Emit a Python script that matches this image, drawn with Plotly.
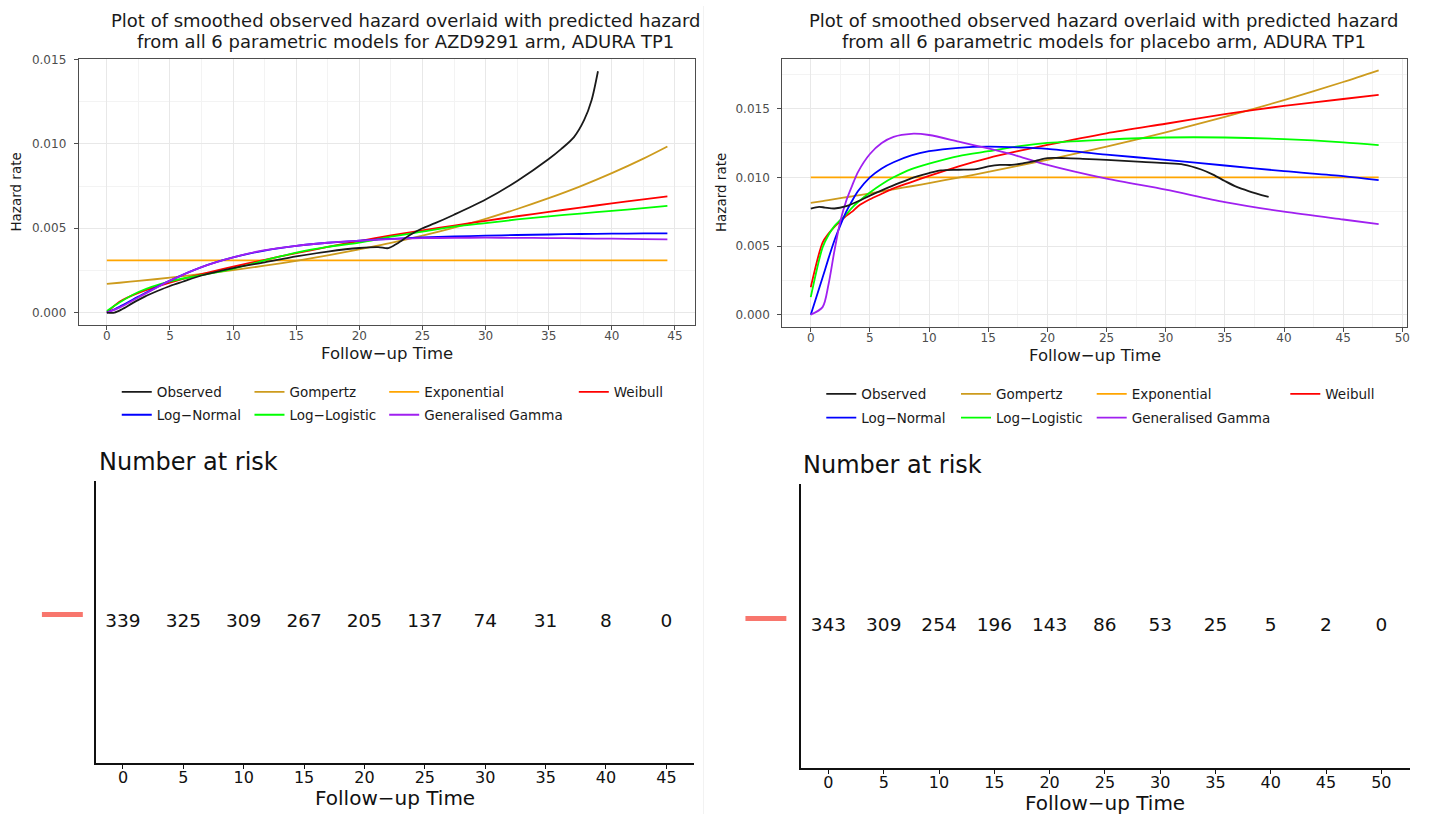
import plotly.graph_objects as go

FONT = "DejaVu Sans"
W, H = 1435, 814

# ---------------- AZD9291 arm ----------------
t_azd = [0, 1, 2.5, 5, 7.5, 10, 12.5, 15, 17.5, 20, 22.5, 25, 27.5, 30, 32.5, 35, 37.5, 40, 42.5, 44.4]
azd_gompertz = [0.00170, 0.00177, 0.00188, 0.00207, 0.00229, 0.00252, 0.00278, 0.00307, 0.00339, 0.00375,
                0.00413, 0.00456, 0.00504, 0.00556, 0.00614, 0.00678, 0.00748, 0.00826, 0.00912, 0.00984]
azd_weibull = [0.0, 0.00064, 0.00117, 0.00178, 0.00228, 0.00272, 0.00313, 0.00352, 0.00389, 0.00424,
               0.00457, 0.00487, 0.00516, 0.00544, 0.00571, 0.00597, 0.00622, 0.00647, 0.00671, 0.00689]
azd_loglogistic = [0.0001, 0.00060, 0.00122, 0.00185, 0.00222, 0.00260, 0.00310, 0.00356, 0.00390, 0.00415,
                   0.00450, 0.00480, 0.00510, 0.00530, 0.00552, 0.00570, 0.00587, 0.00603, 0.00619, 0.00632]
azd_lognormal = [0.0, 0.00035, 0.00095, 0.00190, 0.00270, 0.00327, 0.00368, 0.00395, 0.00414, 0.00427,
                 0.00437, 0.00445, 0.00451, 0.00456, 0.00460, 0.00463, 0.00466, 0.00468, 0.00469, 0.00470]
azd_gengamma = [0.0, 0.00030, 0.00090, 0.00190, 0.00270, 0.00328, 0.00370, 0.00396, 0.00414, 0.00426,
                0.00436, 0.00441, 0.00443, 0.00444, 0.00443, 0.00442, 0.00440, 0.00438, 0.00436, 0.00434]
t_azd_exp = [0, 44.4]
azd_exponential = [0.0031, 0.0031]
t_azd_obs = [0, 0.6, 1.2, 2, 3, 4, 5, 6, 7.5, 10, 12.5, 15, 17.5, 20, 21.5, 22.3, 23, 24, 25, 26, 27.5,
             30, 32.5, 35, 36, 37, 37.8, 38.4, 38.9]
azd_observed = [0.0, 0.0, 0.0002, 0.00055, 0.00095, 0.00128, 0.00158, 0.00183, 0.0022, 0.00264, 0.00298,
                0.00333, 0.00362, 0.00383, 0.00388, 0.00382, 0.0041, 0.0046, 0.0050, 0.0053, 0.0058,
                0.0067, 0.0078, 0.0091, 0.0097, 0.0104, 0.0114, 0.0126, 0.0143]

# ---------------- placebo arm ----------------
t_pbo = [0, 1, 1.5, 2, 2.5, 3, 3.5, 4, 5, 6, 7, 8.5, 10, 12.5, 15, 17.5, 20, 25, 30, 35, 40, 45, 48]
pbo_gompertz = [0.00814, 0.00827, 0.00834, 0.00841, 0.00848, 0.00855, 0.00862, 0.00869, 0.00883, 0.00898,
                0.00913, 0.00935, 0.00958, 0.00998, 0.01039, 0.01083, 0.01127, 0.01223, 0.01327, 0.01440,
                0.01562, 0.01694, 0.01779]
pbo_weibull = [0.0020, 0.00525, 0.0059, 0.0064, 0.0068, 0.0072, 0.0075, 0.0079, 0.0084, 0.0088, 0.0092,
               0.00965, 0.0101, 0.0108, 0.0114, 0.0119, 0.01236, 0.0132, 0.0139, 0.0146, 0.0152, 0.0157, 0.0160]
pbo_loglogistic = [0.00128, 0.0049, 0.0058, 0.00645, 0.0069, 0.0073, 0.0078, 0.0082, 0.0089, 0.0095, 0.0100,
                   0.0106, 0.0110, 0.01155, 0.0119, 0.01225, 0.0125, 0.01275, 0.0129, 0.0129, 0.01278,
                   0.01255, 0.01235]
pbo_lognormal = [0.0, 0.0027, 0.0041, 0.0054, 0.0065, 0.0075, 0.0083, 0.0090, 0.0100, 0.01065, 0.0111,
                 0.0116, 0.0119, 0.01215, 0.01223, 0.01218, 0.01207, 0.01165, 0.01127, 0.01086, 0.01045,
                 0.01009, 0.0098]
pbo_gengamma = [0.0, 0.00055, 0.0022, 0.00465, 0.0068, 0.0083, 0.0094, 0.0104, 0.0117, 0.0125, 0.01295,
                0.01317, 0.01308, 0.0126, 0.0121, 0.01155, 0.0109, 0.0099, 0.0091, 0.0082, 0.0075, 0.00693,
                0.0066]
t_pbo_exp = [0, 48]
pbo_exponential = [0.0100, 0.0100]
t_pbo_obs = [0, 0.7, 1.2, 2, 3, 4, 5, 6, 7.5, 9, 10, 11, 12.5, 14, 15, 16, 17, 18, 19, 20, 21.5, 23, 25,
             28, 30, 31.5, 33, 34, 35, 36, 37, 38.7]
pbo_observed = [0.00773, 0.00785, 0.0078, 0.00773, 0.0079, 0.00826, 0.00867, 0.00905, 0.00959, 0.01007,
                0.01031, 0.0105, 0.01055, 0.0106, 0.01079, 0.0109, 0.0109, 0.01103, 0.0112, 0.0114, 0.0114,
                0.01135, 0.01127, 0.01112, 0.01103, 0.01093, 0.01057, 0.0102, 0.00973, 0.0093, 0.0090, 0.00857]

# ---------------- numbers at risk ----------------
risk_times_azd = [0, 5, 10, 15, 20, 25, 30, 35, 40, 45]
risk_azd = [339, 325, 309, 267, 205, 137, 74, 31, 8, 0]
risk_times_pbo = [0, 5, 10, 15, 20, 25, 30, 35, 40, 45, 50]
risk_pbo = [343, 309, 254, 196, 143, 86, 53, 25, 5, 2, 0]
stratum_row = 1

model_names = ["Observed", "Gompertz", "Exponential", "Weibull",
               "Log\u2212Normal", "Log\u2212Logistic", "Generalised Gamma"]
model_colors = {"Observed": "#1a1a1a", "Gompertz": "#CD9B1D", "Exponential": "#FFA500",
                "Weibull": "#FF0000", "Log\u2212Normal": "#0000FF", "Log\u2212Logistic": "#00FF00",
                "Generalised Gamma": "#A020F0"}

azd_series = {
    "Observed": (t_azd_obs, azd_observed),
    "Gompertz": (t_azd, azd_gompertz),
    "Exponential": (t_azd_exp, azd_exponential),
    "Weibull": (t_azd, azd_weibull),
    "Log\u2212Normal": (t_azd, azd_lognormal),
    "Log\u2212Logistic": (t_azd, azd_loglogistic),
    "Generalised Gamma": (t_azd, azd_gengamma),
}
pbo_series = {
    "Observed": (t_pbo_obs, pbo_observed),
    "Gompertz": (t_pbo, pbo_gompertz),
    "Exponential": (t_pbo_exp, pbo_exponential),
    "Weibull": (t_pbo, pbo_weibull),
    "Log\u2212Normal": (t_pbo, pbo_lognormal),
    "Log\u2212Logistic": (t_pbo, pbo_loglogistic),
    "Generalised Gamma": (t_pbo, pbo_gengamma),
}

# drawing order (bottom to top)
draw_order = ["Exponential", "Gompertz", "Weibull", "Log\u2212Logistic", "Log\u2212Normal",
              "Generalised Gamma", "Observed"]


def px_x(p):
    return p / W


def px_y(p):
    return 1 - p / H


fig = go.Figure()

# legend slots: (line start x, row centre y) in pixels
legend_slots_azd = {"Observed": (122, 389), "Gompertz": (255, 389), "Exponential": (390, 389),
                    "Weibull": (580, 389), "Log\u2212Normal": (122, 412), "Log\u2212Logistic": (255, 412),
                    "Generalised Gamma": (390, 412)}
legend_slots_pbo = {"Observed": (828, 391), "Gompertz": (963, 391), "Exponential": (1099, 391),
                    "Weibull": (1293, 391), "Log\u2212Normal": (828, 415), "Log\u2212Logistic": (963, 415),
                    "Generalised Gamma": (1099, 415)}

legend_layouts = {}
legend_ids = {}
k = 1
for arm, slots in (("azd", legend_slots_azd), ("pbo", legend_slots_pbo)):
    for name in model_names:
        lid = "legend" if k == 1 else f"legend{k}"
        legend_ids[(arm, name)] = lid
        lx, ly = slots[name]
        legend_layouts[lid] = dict(
            x=px_x(lx - 5), y=px_y(ly), xanchor="left", yanchor="middle",
            orientation="v", bgcolor="rgba(0,0,0,0)", borderwidth=0,
            font=dict(family=FONT, size=13.5, color="#1a1a1a"),
            itemclick=False, itemdoubleclick=False,
        )
        k += 1

for arm, series, xa, ya in (("azd", azd_series, "x", "y"), ("pbo", pbo_series, "x2", "y2")):
    for name in draw_order:
        tx, vy = series[name]
        fig.add_trace(go.Scatter(
            x=tx, y=vy, mode="lines", name=name,
            line=dict(color=model_colors[name], width=1.8, shape="spline", smoothing=0.8),
            xaxis=xa, yaxis=ya, legend=legend_ids[(arm, name)], showlegend=True,
            hoverinfo="skip",
        ))

# number-at-risk rows
for tx, nr, xa, ya in ((risk_times_azd, risk_azd, "x3", "y3"), (risk_times_pbo, risk_pbo, "x4", "y4")):
    fig.add_trace(go.Scatter(
        x=tx, y=[stratum_row] * len(tx), mode="text", text=[str(v) for v in nr],
        textposition="middle center",
        textfont=dict(family=FONT, size=18.5, color="#111111"),
        xaxis=xa, yaxis=ya, showlegend=False, hoverinfo="skip",
    ))

grid_major = "#E8E8E8"
grid_minor = "#F3F3F3"
border = "#4d4d4d"
tick_font = dict(family=FONT, size=12, color="#4D4D4D")


def hazard_x(dom, rng, dtick, anchor):
    return dict(domain=dom, range=rng, anchor=anchor, tick0=0, dtick=dtick, showgrid=True,
                gridcolor=grid_major, gridwidth=1.2, zeroline=False, showline=True, mirror=True,
                linecolor=border, linewidth=1.3, ticks="outside", ticklen=4, tickcolor=border,
                tickwidth=1.1, tickfont=tick_font, ticklabelstandoff=-4,
                minor=dict(dtick=dtick / 2, tick0=0, showgrid=True, gridcolor=grid_minor, gridwidth=0.8,
                           ticks=""))


def hazard_y(dom, rng, anchor):
    return dict(domain=dom, range=rng, anchor=anchor, tick0=0, dtick=0.005, tickformat=".3f",
                showgrid=True, gridcolor=grid_major, gridwidth=1.2, zeroline=False, showline=True,
                mirror=True, linecolor=border, linewidth=1.3, ticks="outside", ticklen=4,
                tickcolor=border, tickwidth=1.1, tickfont=tick_font, ticklabelstandoff=5,
                minor=dict(dtick=0.0025, tick0=0, showgrid=True, gridcolor=grid_minor, gridwidth=0.8,
                           ticks=""))


def risk_x(dom, rng, anchor):
    return dict(domain=dom, range=rng, anchor=anchor, tick0=0, dtick=5, showgrid=False, zeroline=False,
                showline=True, linecolor="#111111", linewidth=1.6, ticks="outside", ticklen=4,
                tickcolor="#111111", tickwidth=1.4, ticklabelstandoff=-5,
                tickfont=dict(family=FONT, size=16, color="#111111"))


def risk_y(dom, anchor):
    return dict(domain=dom, range=[0.5, 1.5], anchor=anchor, showgrid=False, zeroline=False,
                showline=True, linecolor="#111111", linewidth=1.6, showticklabels=False, ticks="")


annotations = []


def text(x, y, s, size, color="#1a1a1a", xanchor="center", angle=0, xref="paper"):
    annotations.append(dict(x=x, y=y, xref=xref, yref="paper", text=s, showarrow=False,
                            xanchor=xanchor, yanchor="middle", textangle=angle,
                            font=dict(family=FONT, size=size, color=color)))


# titles
title_l1 = "Plot of smoothed observed hazard overlaid with predicted hazard"
text(px_x(406), px_y(14.5), title_l1, 18)
text(px_x(406), px_y(36), "from all 6 parametric models for AZD9291 arm, ADURA TP1", 18)
text(px_x(1106), px_y(14.5), title_l1, 18)
text(px_x(1106), px_y(36), "from all 6 parametric models for placebo arm, ADURA TP1", 18)

# axis titles of the hazard panels
text(px_x(16), px_y(187), "Hazard rate", 13.5, angle=-90)
text(px_x(722), px_y(188), "Hazard rate", 13.5, angle=-90)
text(px_x(387.5), px_y(350), "Follow\u2212up Time", 16.5)
text(px_x(1097), px_y(352), "Follow\u2212up Time", 16.5)

# number-at-risk headings and axis titles
text(px_x(97), px_y(459), "Number at risk", 24, color="#111111", xanchor="left")
text(px_x(803), px_y(462), "Number at risk", 24, color="#111111", xanchor="left")
text(px_x(395.5), px_y(798), "Follow\u2212up Time", 20, color="#111111")
text(px_x(1107.5), px_y(803), "Follow\u2212up Time", 20, color="#111111")

shapes = [
    # faint seam between the two halves
    dict(type="line", xref="paper", yref="paper", x0=px_x(705), x1=px_x(705), y0=0, y1=1,
         line=dict(color="#F2F2F2", width=1), layer="below"),
    # stratum colour keys of the risk tables
    dict(type="line", xref="x3 domain", yref="y3 domain", x0=(42 - 96) / 599, x1=(83 - 96) / 599,
         y0=0.528, y1=0.528, line=dict(color="#F8766D", width=5)),
    dict(type="line", xref="x4 domain", yref="y4 domain", x0=(747 - 802.5) / 610.5,
         x1=(788 - 802.5) / 610.5, y0=0.528, y1=0.528, line=dict(color="#F8766D", width=5)),
]

fig.update_layout(
    width=W, height=H, margin=dict(l=0, r=0, t=0, b=0),
    paper_bgcolor="white", plot_bgcolor="white",
    font=dict(family=FONT),
    xaxis=hazard_x([px_x(79), px_x(696.5)], [-2.22, 46.59], 5, "y"),
    yaxis=hazard_y([px_y(321), px_y(53.3)], [-0.00071, 0.01503], "x"),
    xaxis2=hazard_x([px_x(784), px_x(1410)], [-2.4, 50.4], 5, "y2"),
    yaxis2=hazard_y([px_y(323.3), px_y(53.3)], [-0.00089, 0.01862], "x2"),
    xaxis3=risk_x([px_x(96), px_x(695)], [-2.25, 47.25], "y3"),
    yaxis3=risk_y([px_y(763), px_y(479)], "x3"),
    xaxis4=risk_x([px_x(802.5), px_x(1413)], [-2.5, 52.6], "y4"),
    yaxis4=risk_y([px_y(768), px_y(482)], "x4"),
    annotations=annotations,
    shapes=shapes,
    **legend_layouts,
)

fig.write_html("out.html")
